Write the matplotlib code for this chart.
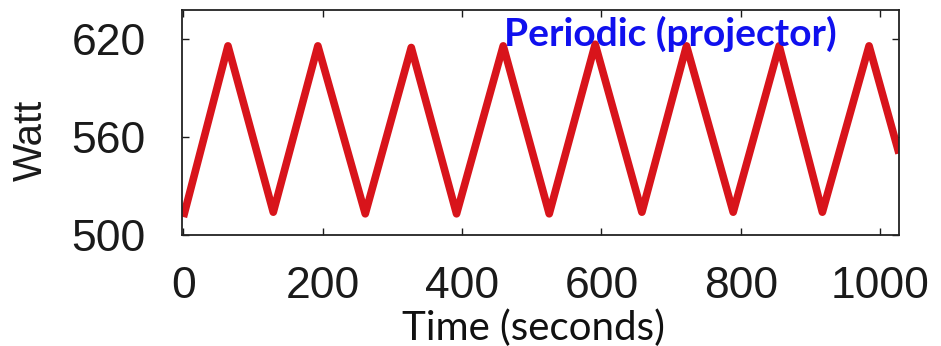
import matplotlib
matplotlib.use("Agg")
import matplotlib.pyplot as plt

# Zeitpunkte (s) und Leistung (W) an den Wendepunkten
zeit = [0, 64, 129, 193, 261, 327, 392, 459, 525, 591, 658, 722, 789, 855, 917, 984, 1027]
watt = [511, 616, 514, 616, 513, 615, 513, 616, 513, 617, 514, 616, 514, 616, 514, 616, 550]

x_ticks = [0, 200, 400, 600, 800, 1000]
y_ticks = [500, 560, 620]

fig = plt.figure(figsize=(9.41, 3.46), dpi=100)
ax = fig.add_axes([0.1934, 0.3208, 0.7620, 0.6503])

ax.plot(zeit, watt, color="#d8141b", linewidth=5.5,
        solid_joinstyle="round", solid_capstyle="butt")

ax.set_xlim(-2, 1027)
ax.set_ylim(500, 638)
ax.set_xticks(x_ticks)
ax.set_yticks(y_ticks)
ax.tick_params(direction="in", length=5, width=1, top=True, right=True,
               labelsize=32, colors="#1a1a1a")
ax.tick_params(axis="y", pad=26)
ax.tick_params(axis="x", pad=22)
for lab in ax.get_xticklabels() + ax.get_yticklabels():
    lab.set_family("Liberation Sans")
for sp in ax.spines.values():
    sp.set_linewidth(1.3)
    sp.set_color("#222222")

ax.set_ylabel("Watt", fontsize=29, family="Liberation Sans", color="#1a1a1a")
ax.yaxis.set_label_coords(-0.184, 0.42)
ax.set_xlabel("Time (seconds)", fontsize=29, family="Lato", color="#111111")
ax.xaxis.set_label_coords(0.49, -0.33)

ax.text(0.913, 0.975, "Periodic (projector)", transform=ax.transAxes,
        ha="right", va="top", fontsize=28, fontweight="bold", family="Lato",
        color="#1010ee")

fig.savefig("out.png", dpi=100)
